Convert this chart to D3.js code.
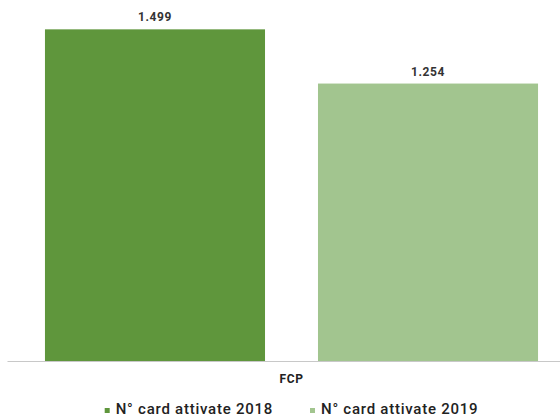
<!DOCTYPE html>
<html>
<head>
<meta charset="utf-8">
<script src="https://cdn.jsdelivr.net/npm/d3@7"></script>
<style>
  body { margin: 0; background: #fff; }
  svg { display: block; font-family: Roboto, "Liberation Sans", sans-serif; }
</style>
</head>
<body>
<script>
// data
const categories = ["FCP"];
const seriesNames = ["N° card attivate 2018", "N° card attivate 2019"];
const values2018 = [1499];
const values2019 = [1254];
const seriesColors = ["#5f963c", "#a2c58f"];

const width = 560, height = 418;
const baseY = 361;

const svg = d3.select("body").append("svg")
    .attr("width", width)
    .attr("height", height);

// italian number format (1.499)
const it = d3.formatLocale({decimal: ",", thousands: ".", grouping: [3], currency: ["", "€"]});
const fmt = it.format(",d");

const rows = categories.map((c, i) => ({cat: c, vals: [values2018[i], values2019[i]]}));

const x0 = d3.scaleBand()
    .domain(categories)
    .range([7, 576])
    .paddingInner(0)
    .paddingOuter(0.077);

const x1 = d3.scaleBand()
    .domain(seriesNames)
    .range([0, x0.bandwidth()])
    .paddingInner(0.194);

const y = d3.scaleLinear()
    .domain([0, 1600])
    .range([baseY, 7]);

// bars
const groups = svg.selectAll("g.cat")
    .data(rows)
    .enter().append("g")
    .attr("class", "cat")
    .attr("transform", d => "translate(" + x0(d.cat) + ",0)");

groups.selectAll("rect")
    .data(d => d.vals.map((v, j) => ({name: seriesNames[j], v: v, j: j})))
    .enter().append("rect")
    .attr("x", d => x1(d.name))
    .attr("y", d => y(d.v))
    .attr("width", x1.bandwidth())
    .attr("height", d => baseY - y(d.v))
    .attr("fill", d => seriesColors[d.j]);

// value labels
groups.selectAll("text.val")
    .data(d => d.vals.map((v, j) => ({name: seriesNames[j], v: v})))
    .enter().append("text")
    .attr("class", "val")
    .attr("x", d => x1(d.name) + x1.bandwidth() / 2)
    .attr("y", d => y(d.v) - 8)
    .attr("text-anchor", "middle")
    .attr("font-size", 12)
    .attr("letter-spacing", 0.6)
    .attr("font-weight", "bold")
    .attr("fill", "#333")
    .text(d => fmt(d.v));

// x axis
const xAxis = svg.append("g")
    .attr("transform", "translate(0," + baseY + ")")
    .call(d3.axisBottom(x0).tickSize(0).tickPadding(13));
xAxis.select(".domain").attr("stroke", "#c8c8c8").attr("stroke-width", 1.2);
xAxis.selectAll("text")
    .attr("font-family", "Roboto, sans-serif")
    .attr("font-size", 12)
    .attr("letter-spacing", 0.6)
    .attr("font-weight", "bold")
    .attr("fill", "#222");

// legend
const legend = svg.append("g").attr("transform", "translate(0,414)");
const items = legend.selectAll("g")
    .data(seriesNames)
    .enter().append("g");
items.append("rect")
    .attr("y", -6)
    .attr("width", 5)
    .attr("height", 5)
    .attr("fill", (d, i) => seriesColors[i]);
items.append("text")
    .attr("x", 11)
    .attr("font-size", 15)
    .attr("letter-spacing", 0.75)
    .attr("font-weight", 500)
    .attr("fill", "#222")
    .text(d => d);

let widths = [];
items.each(function() { widths.push(11 + this.querySelector("text").getComputedTextLength()); });
const gap = 37;
const total = d3.sum(widths) + gap * (widths.length - 1);
let lx = x0(categories[0]) + x0.bandwidth() / 2 - total / 2;
items.attr("transform", (d, i) => {
    const t = "translate(" + lx + ",0)";
    lx += widths[i] + gap;
    return t;
});
</script>
</body>
</html>
